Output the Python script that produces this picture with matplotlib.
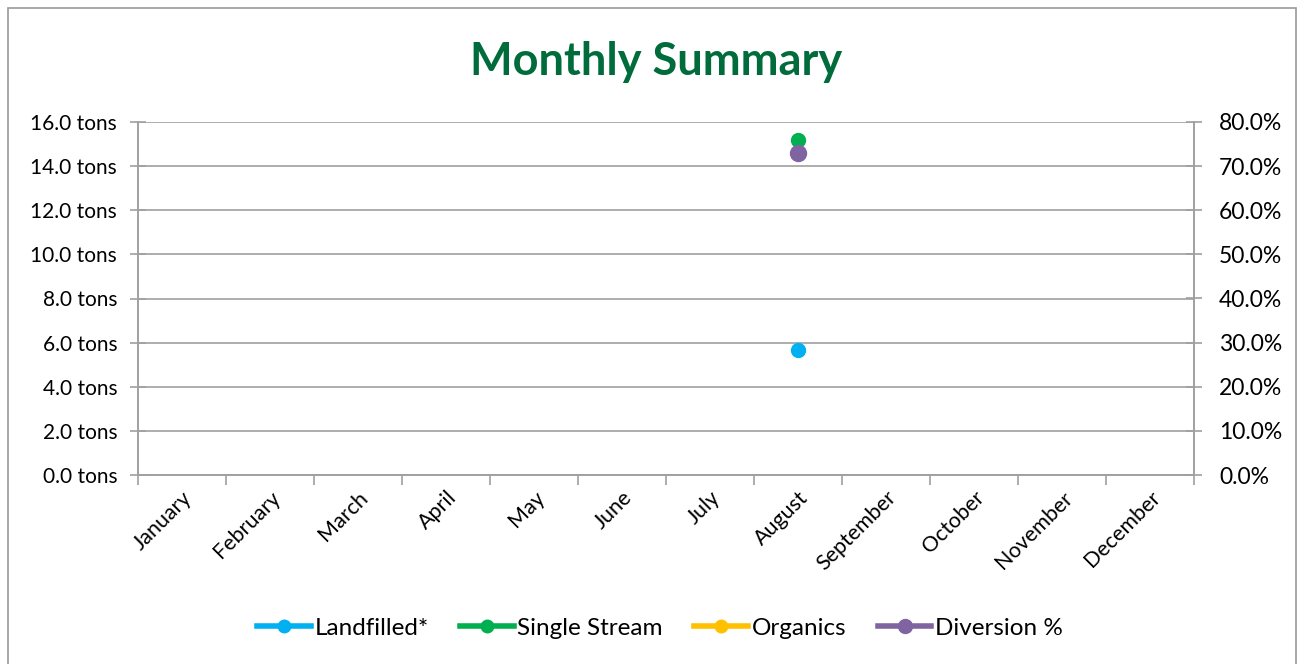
import matplotlib.pyplot as plt
import matplotlib.ticker as mticker
from matplotlib.lines import Line2D
from matplotlib.patches import Rectangle
import numpy as np

months = ["January", "February", "March", "April", "May", "June", "July",
          "August", "September", "October", "November", "December"]
nan = np.nan
landfilled = [nan, nan, nan, nan, nan, nan, nan, 5.65, nan, nan, nan, nan]
single_stream = [nan, nan, nan, nan, nan, nan, nan, 15.2, nan, nan, nan, nan]
organics = [nan] * 12
diversion = [nan, nan, nan, nan, nan, nan, nan, 72.9, nan, nan, nan, nan]

c_land = "#00B0F0"
c_single = "#00B050"
c_org = "#FFC000"
c_div = "#8064A2"
grid_c = "#A0A0A0"
font = "Lato"

fig = plt.figure(figsize=(13.02, 6.64), dpi=100)
fig.patches.append(Rectangle((8 / 1302, -0.01), 1288 / 1302, 1 - 8 / 664 + 0.01,
                             transform=fig.transFigure, fill=False,
                             edgecolor="#9A9A9A", linewidth=1.2))

ax = fig.add_axes([138 / 1302, 1 - 475 / 664, (1194 - 138) / 1302, (475 - 122) / 664])
ax2 = ax.twinx()

x = np.arange(len(months))
ax.plot(x, landfilled, "o", color=c_land, markersize=10, zorder=3)
ax.plot(x, single_stream, "o", color=c_single, markersize=10, zorder=3)
ax.plot(x, organics, "o", color=c_org, markersize=10, zorder=3)
ax2.plot(x, diversion, "o", color=c_div, markersize=11.5, zorder=3)

ax.set_xlim(-0.5, 11.5)
ax.set_ylim(0, 16)
ax2.set_ylim(0, 80)
ax.set_yticks(np.arange(0, 17, 2))
ax2.set_yticks(np.arange(0, 81, 10))
ax.yaxis.set_major_formatter(mticker.FuncFormatter(lambda v, p: f"{v:.1f} tons"))
ax2.yaxis.set_major_formatter(mticker.FuncFormatter(lambda v, p: f"{v:.1f}%"))
ax.grid(axis="y", color=grid_c, linewidth=1.2)
ax.set_axisbelow(True)

ax.set_xticks(x)
ax.set_xticklabels(months, rotation=45, ha="right", rotation_mode="anchor",
                   fontsize=15.5, family=font)
ax.xaxis.set_minor_locator(mticker.FixedLocator(np.arange(-0.5, 12, 1)))
ax.tick_params(axis="x", which="major", length=0, pad=9)
ax.tick_params(axis="x", which="minor", length=7, color=grid_c, width=1.2)
ax.tick_params(axis="y", direction="inout", length=12, color=grid_c, width=1.2,
               labelsize=15, pad=9)
ax2.tick_params(axis="y", direction="inout", length=12, color=grid_c, width=1.2,
                labelsize=16.5, pad=12)
for lab in ax.get_yticklabels() + ax2.get_yticklabels():
    lab.set_family(font)

for a in (ax, ax2):
    a.spines["top"].set_visible(False)
    for s in ("left", "right", "bottom"):
        a.spines[s].set_color(grid_c)
        a.spines[s].set_linewidth(1.2)

fig.text(656 / 1302, 1 - 62 / 664, "Monthly Summary", ha="center", va="center",
         fontsize=32.5, fontweight="bold", color="#006C3B", family=font)

handles = [
    Line2D([], [], color=c_land, lw=4, marker="o", markersize=9),
    Line2D([], [], color=c_single, lw=4, marker="o", markersize=9),
    Line2D([], [], color=c_org, lw=4, marker="o", markersize=9),
    Line2D([], [], color=c_div, lw=4, marker="o", markersize=10),
]
fig.legend(handles, ["Landfilled*", "Single Stream", "Organics", "Diversion %"],
           loc="center", bbox_to_anchor=(660 / 1302, 1 - 628 / 664), ncol=4,
           frameon=False, prop={"family": font, "size": 17.5}, handlelength=2.2,
           handletextpad=0.15, columnspacing=1.3)

fig.savefig("out.png", dpi=100)
